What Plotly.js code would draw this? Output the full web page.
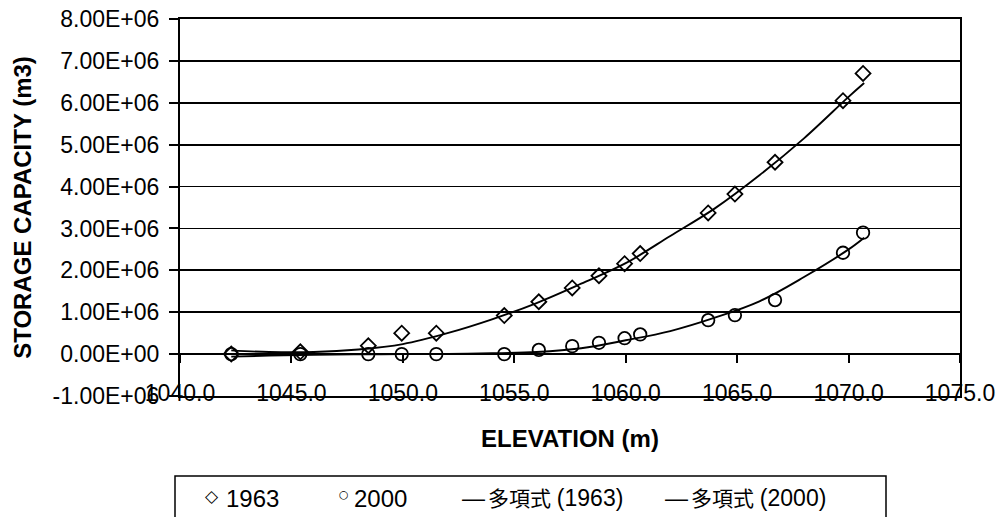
<!DOCTYPE html>
<html>
<head>
<meta charset="utf-8">
<script src="https://cdn.plot.ly/plotly-3.0.1.min.js"></script>
<style>
  html, body { margin: 0; padding: 0; background: #fff; }
  #chart { width: 1002px; height: 517px; }
</style>
</head>
<body>
<div id="chart"></div>
<script>
// ---- data ----
const elevation = [1042.3, 1045.4, 1048.45, 1049.95, 1051.5, 1054.55, 1056.1, 1057.6, 1058.8, 1059.95, 1060.65, 1063.7, 1064.9, 1066.7, 1069.75, 1070.65];
const cap1963 = [0, 55000, 200000, 500000, 500000, 920000, 1250000, 1580000, 1870000, 2160000, 2400000, 3370000, 3820000, 4580000, 6050000, 6700000];
const cap2000 = [0, 0, 0, 0, 0, 0, 100000, 190000, 270000, 380000, 470000, 810000, 930000, 1290000, 2420000, 2900000];

// polynomial trend lines as drawn in the reference
const trendElev = [1042.3, 1044, 1046, 1048, 1050, 1052, 1054, 1056, 1058, 1060, 1062, 1064, 1066, 1068, 1070, 1070.7];
const trend1963 = [90000, 50000, 50000, 110000, 240000, 500000, 830000, 1220000, 1680000, 2170000, 2820000, 3480000, 4270000, 5150000, 6140000, 6470000];
const trend2000 = [-60000, -35000, -15000, -5000, 0, 5000, 20000, 50000, 140000, 330000, 550000, 870000, 1260000, 1840000, 2500000, 2780000];

const seriesNames = ["1963", "2000", "多項式 (1963)", "多項式 (2000)"];

const xTickVals = [1040, 1045, 1050, 1055, 1060, 1065, 1070, 1075];
const xTickText = ["1040.0", "1045.0", "1050.0", "1055.0", "1060.0", "1065.0", "1070.0", "1075.0"];
const yTickVals = [-1000000, 0, 1000000, 2000000, 3000000, 4000000, 5000000, 6000000, 7000000, 8000000];
const yTickText = ["-1.00E+06", "0.00E+00", "1.00E+06", "2.00E+06", "3.00E+06", "4.00E+06", "5.00E+06", "6.00E+06", "7.00E+06", "8.00E+06"];

const xTitle = "ELEVATION (m)";
const yTitle = "STORAGE CAPACITY (m3)";

// ---- chart ----
const FONT = "Liberation Sans, Arial, sans-serif";
const CJK = "Liberation Sans, Noto Sans CJK TC, sans-serif";

const traces = [
  {
    x: trendElev, y: trend1963, name: seriesNames[2], type: "scatter", mode: "lines",
    xaxis: "x2", line: { color: "#000", width: 1.9, shape: "spline" }, hoverinfo: "skip"
  },
  {
    x: trendElev, y: trend2000, name: seriesNames[3], type: "scatter", mode: "lines",
    xaxis: "x2", line: { color: "#000", width: 1.9, shape: "spline" }, hoverinfo: "skip"
  },
  {
    x: elevation, y: cap1963, name: seriesNames[0], type: "scatter", mode: "markers",
    marker: { symbol: "diamond-open", size: 11.5, color: "#000", line: { width: 1.8, color: "#000" } }
  },
  {
    x: elevation, y: cap2000, name: seriesNames[1], type: "scatter", mode: "markers",
    marker: { symbol: "circle-open", size: 12.5, color: "#000", line: { width: 1.8, color: "#000" } }
  }
];

// legend box & entries (pixel-matched to the reference; paper coords)
function px2x(p) { return (p - 180) / 780; }
function py2y(p) { return (396 - p) / 377; }
const legY = py2y(498);

const layout = {
  width: 1002, height: 517,
  margin: { l: 180, r: 42, t: 19, b: 121 },
  paper_bgcolor: "#fff", plot_bgcolor: "#fff",
  showlegend: false,
  font: { family: FONT, color: "#000", size: 23 },
  xaxis: {
    range: [1040, 1075], tickvals: xTickVals, ticktext: xTickText,
    showgrid: false, zeroline: false,
    showline: true, mirror: true, linecolor: "#000", linewidth: 2,
    ticks: "", ticklabelstandoff: -25,
    tickfont: { family: FONT, size: 23, color: "#000" },
    title: { text: xTitle, font: { family: FONT, size: 24, color: "#000", weight: "bold" }, standoff: 26 }
  },
  xaxis2: {
    range: [1040, 1075], tickvals: xTickVals, overlaying: "x", anchor: "free", position: 1 / 9,
    showgrid: false, zeroline: false, showline: false, showticklabels: false,
    ticks: "outside", ticklen: 8, tickwidth: 2, tickcolor: "#000"
  },
  yaxis: {
    range: [-1000000, 8000000], tickvals: yTickVals, ticktext: yTickText,
    showgrid: true, gridcolor: "#000", gridwidth: 1.7,
    zeroline: true, zerolinecolor: "#000", zerolinewidth: 2,
    showline: true, mirror: true, linecolor: "#000", linewidth: 2,
    ticks: "outside", ticklen: 9, tickwidth: 2, tickcolor: "#000",
    ticklabelstandoff: 5,
    tickfont: { family: FONT, size: 23, color: "#000" },
    title: { text: yTitle, font: { family: FONT, size: 24, color: "#000", weight: "bold" }, standoff: 14 }
  },
  shapes: [
    { type: "rect", xref: "paper", yref: "paper",
      x0: px2x(175), x1: px2x(886), y0: py2y(476), y1: py2y(540),
      line: { color: "#000", width: 1.5 }, fillcolor: "rgba(0,0,0,0)" }
  ],
  annotations: [
    { text: "◇", x: px2x(204), y: py2y(496), font: { family: "DejaVu Sans", size: 17, color: "#000" } },
    { text: seriesNames[0], x: px2x(225), y: legY, font: { family: FONT, size: 24, color: "#000" } },
    { text: "○", x: px2x(338), y: py2y(494), font: { family: "DejaVu Sans", size: 11, color: "#000" } },
    { text: seriesNames[1], x: px2x(353), y: legY, font: { family: FONT, size: 24, color: "#000" } },
    { text: "—", x: px2x(461), y: legY, font: { family: FONT, size: 23, color: "#000" } },
    { text: "多項式 <span style='font-size:23px'>(1963)</span>", x: px2x(487), y: legY, font: { family: CJK, size: 21, color: "#000" } },
    { text: "—", x: px2x(664), y: legY, font: { family: FONT, size: 23, color: "#000" } },
    { text: "多項式 <span style='font-size:23px'>(2000)</span>", x: px2x(690), y: legY, font: { family: CJK, size: 21, color: "#000" } }
  ].map(a => Object.assign({ xref: "paper", yref: "paper", xanchor: "left", yanchor: "middle", showarrow: false, borderpad: 0 }, a))
};

Plotly.newPlot("chart", traces, layout, { staticPlot: true, displayModeBar: false });
</script>
</body>
</html>
